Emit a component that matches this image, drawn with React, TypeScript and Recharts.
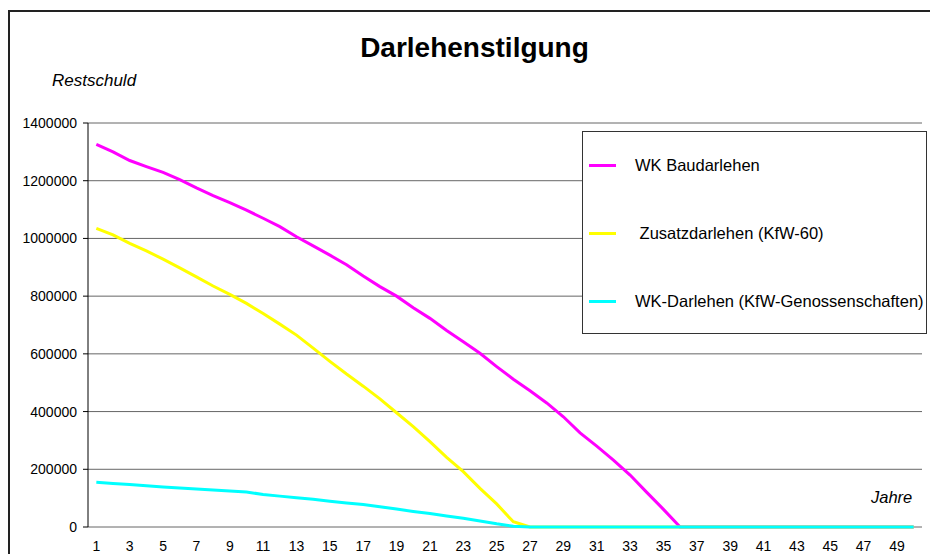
import React from 'react';
import { LineChart, Line, XAxis, YAxis, CartesianGrid, Legend } from 'recharts';

const years = [
  1, 2, 3, 4, 5, 6, 7, 8, 9, 10, 11, 12, 13, 14, 15, 16, 17, 18, 19, 20, 21, 22, 23, 24, 25,
  26, 27, 28, 29, 30, 31, 32, 33, 34, 35, 36, 37, 38, 39, 40, 41, 42, 43, 44, 45, 46, 47, 48, 49, 50,
];

const wkBaudarlehen = [
  1326000, 1300000, 1270000, 1249000, 1229000, 1204000, 1175000, 1148000, 1124000, 1098000,
  1070000, 1041000, 1006000, 974000, 942000, 909000, 870000, 833000, 800000, 760000,
  723000, 681000, 642000, 602000, 556000, 512000, 472000, 430000, 382000, 326000,
  280000, 232000, 180000, 120000, 61000, 0, 0, 0, 0, 0,
  0, 0, 0, 0, 0, 0, 0, 0, 0, 0,
];

const zusatzdarlehen = [
  1035000, 1012000, 983000, 957000, 928000, 898000, 867000, 835000, 806000, 775000,
  740000, 703000, 665000, 620000, 574000, 530000, 488000, 444000, 396000, 348000,
  296000, 241000, 192000, 134000, 80000, 18000, 0, 0, 0, 0,
  0, 0, 0, 0, 0, 0, 0, 0, 0, 0,
  0, 0, 0, 0, 0, 0, 0, 0, 0, 0,
];

const wkDarlehenKfw = [
  155000, 151000, 147000, 143000, 139000, 135000, 132000, 128000, 125000, 121000,
  113000, 107000, 101000, 96000, 89000, 83000, 78000, 70000, 62000, 54000,
  47000, 38000, 30000, 21000, 11000, 3000, 0, 0, 0, 0,
  0, 0, 0, 0, 0, 0, 0, 0, 0, 0,
  0, 0, 0, 0, 0, 0, 0, 0, 0, 0,
];

const yTicks = [0, 200000, 400000, 600000, 800000, 1000000, 1200000, 1400000];
const xLabelTicks = [1, 3, 5, 7, 9, 11, 13, 15, 17, 19, 21, 23, 25, 27, 29, 31, 33, 35, 37, 39, 41, 43, 45, 47, 49];

const seriesKeys = ['wk', 'zus', 'kfw'];
const seriesNames = ['WK Baudarlehen', ' Zusatzdarlehen (KfW-60)', 'WK-Darlehen (KfW-Genossenschaften)'];
const seriesColors = ['#FF00FF', '#FFFF00', '#00FFFF'];

const data = years.map((y, i) => ({
  year: y,
  wk: wkBaudarlehen[i],
  zus: zusatzdarlehen[i],
  kfw: wkDarlehenKfw[i],
}));

const boundaryTicks = years.map((y) => y - 0.5).concat([years[years.length - 1] + 0.5]);
const xDomain = [years[0] - 0.5, years[years.length - 1] + 0.5];

const FONT = 'Liberation Sans, Arial, sans-serif';

const XTick = (props: any) => {
  const { x, y, payload } = props;
  return (
    <text x={x} y={y} textAnchor="middle" fontFamily={FONT} fontSize={14} fill="#000">
      {payload.value}
    </text>
  );
};

const YTick = (props: any) => {
  const { x, y, payload } = props;
  return (
    <text x={x} y={y + 5} textAnchor="end" fontFamily={FONT} fontSize={14} fill="#000">
      {payload.value}
    </text>
  );
};

const renderLegend = () => (
  <div
    style={{
      width: 345,
      height: 203,
      border: '1px solid #333',
      boxSizing: 'border-box',
      background: '#fff',
      position: 'relative',
      fontFamily: FONT,
      fontSize: 16.5,
      color: '#000',
    }}
  >
    {seriesNames.map((name, i) => {
      const cy = [33, 101, 169][i];
      return (
        <React.Fragment key={name}>
          <div
            style={{
              position: 'absolute',
              left: 6,
              top: cy - 1.5,
              width: 27,
              height: 3,
              background: seriesColors[i],
            }}
          />
          <div
            style={{
              position: 'absolute',
              left: 52,
              top: cy - 10,
              height: 20,
              lineHeight: '20px',
              whiteSpace: 'pre',
            }}
          >
            {name}
          </div>
        </React.Fragment>
      );
    })}
  </div>
);

export default function App() {
  return (
    <div style={{ position: 'absolute', left: 0, top: 0, width: 930, height: 554, background: '#fff', overflow: 'hidden', fontFamily: FONT }}>
      <div
        style={{
          position: 'absolute',
          left: 8,
          top: 10,
          width: 940,
          height: 560,
          borderLeft: '2px solid #222',
          borderTop: '2px solid #222',
        }}
      />
      <div
        style={{
          position: 'absolute',
          left: 0,
          top: 34,
          width: 949,
          textAlign: 'center',
          fontFamily: FONT,
          fontWeight: 'bold',
          fontSize: 28,
          lineHeight: '28px',
          color: '#000',
          whiteSpace: 'nowrap',
        }}
      >
        Darlehenstilgung
      </div>
      <div
        style={{
          position: 'absolute',
          left: 52,
          top: 72,
          fontFamily: FONT,
          fontStyle: 'italic',
          fontSize: 17,
          lineHeight: '17px',
          color: '#000',
          whiteSpace: 'nowrap',
        }}
      >
        Restschuld
      </div>
      <div style={{ position: 'absolute', left: 0, top: 0 }}>
        <LineChart
          width={930}
          height={554}
          data={data}
          margin={{ top: 123, right: 8, bottom: 0, left: 0 }}
          style={{ fontFamily: FONT }}
        >
          <CartesianGrid vertical={false} stroke="#666" strokeWidth={1} />
          <XAxis
            dataKey="year"
            type="number"
            domain={xDomain}
            ticks={boundaryTicks}
            allowDataOverflow
            height={0}
            tick={false}
            tickSize={4}
            tickLine={{ stroke: '#000' }}
            axisLine={{ stroke: '#000080', strokeWidth: 2 }}
          />
          <XAxis
            xAxisId="lbl"
            dataKey="year"
            type="number"
            domain={xDomain}
            ticks={xLabelTicks}
            allowDataOverflow
            height={27}
            tickSize={0}
            tickMargin={24}
            tickLine={false}
            axisLine={false}
            interval={0}
            tick={<XTick />}
          />
          <YAxis
            domain={[0, 1400000]}
            ticks={yTicks}
            width={88}
            interval={0}
            tickSize={5}
            tickMargin={6}
            tickLine={{ stroke: '#000' }}
            axisLine={{ stroke: '#000' }}
            tick={<YTick />}
          />
          <YAxis
            yAxisId="r"
            orientation="right"
            width={0}
            tick={false}
            tickLine={false}
            axisLine={{ stroke: '#777' }}
          />
          <Legend
            layout="horizontal"
            verticalAlign="middle"
            align="center"
            content={renderLegend}
            wrapperStyle={{ position: 'absolute', left: 582, top: 131, width: 345, height: 203 }}
          />
          {seriesKeys.map((k, i) => (
            <Line
              key={k}
              type="linear"
              dataKey={k}
              name={seriesNames[i]}
              stroke={seriesColors[i]}
              strokeWidth={3}
              dot={false}
              activeDot={false}
              isAnimationActive={false}
            />
          ))}
        </LineChart>
      </div>
      <div
        style={{
          position: 'absolute',
          left: 871,
          top: 489,
          fontFamily: FONT,
          fontStyle: 'italic',
          fontSize: 16.5,
          lineHeight: '16.5px',
          color: '#000',
          whiteSpace: 'nowrap',
        }}
      >
        Jahre
      </div>
    </div>
  );
}
